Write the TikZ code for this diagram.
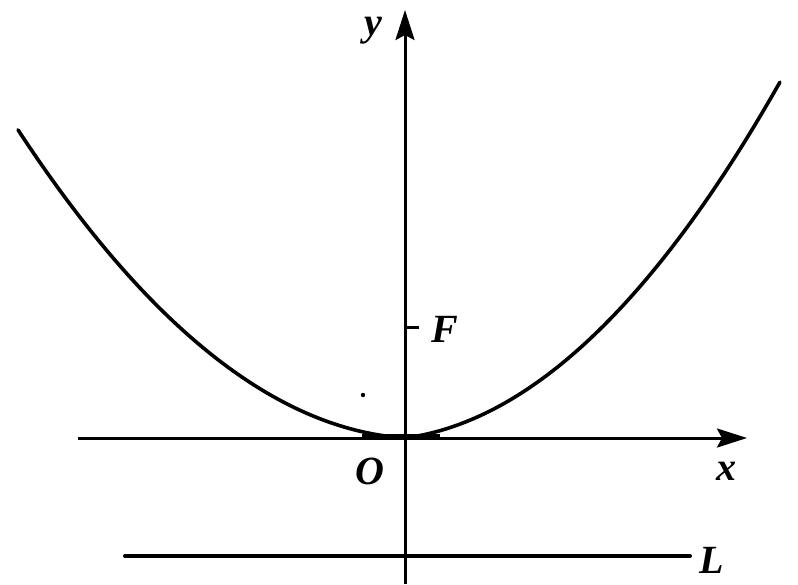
\documentclass[tikz,border=0pt]{standalone}
\usepackage{fontspec}
\setmainfont{Liberation Serif}
\usetikzlibrary{arrows.meta}
\begin{document}
\begin{tikzpicture}[x=1pt,y=-1pt,
  axis/.style={line width=3pt,-{Stealth[length=30pt,width=19pt,inset=5pt]}},
  lbl/.style={font=\fontsize{40}{40}\selectfont\bfseries\itshape,inner sep=0pt},
  curve/.style={line width=3.6pt,line cap=round}]
\useasboundingbox (0,0) rectangle (798,584);
\coordinate (xs) at (78,438);
\coordinate (xe) at (747,438);
\coordinate (ys) at (405,584);
\coordinate (ye) at (405,10);
\draw[axis] (xs) -- (xe);
\draw[axis] (ys) -- (ye);
% parabola
\draw[curve] plot[domain=-3.87:0,samples=80] ({405+100*\x},{438-18.87*\x*\x+6.6*\x});
\draw[curve] plot[domain=0:3.75,samples=80] ({405+100*\x},{438-21.76*\x*\x-13.33*\x});
\draw[line width=6pt] (362,437) -- (440,437);
% focus tick
\coordinate (Ft) at (405,327);
\coordinate (Fe) at (419,327);
\draw[line width=3pt] (Ft) -- (Fe);
\node[lbl] (F) at (445,329) {F};
% directrix
\coordinate (Ls) at (125,556);
\coordinate (Le) at (690,556);
\draw[line width=4pt,line cap=round] (Ls) -- (Le);
\node[lbl] (L) at (712,560) {L};
\node[lbl] (O) at (370,471) {O};
\node[lbl] (x) at (726,471) {x};
\node[lbl] (y) at (373,31) {y};
\fill (363,395) circle (2.2pt);
\end{tikzpicture}
\end{document}
